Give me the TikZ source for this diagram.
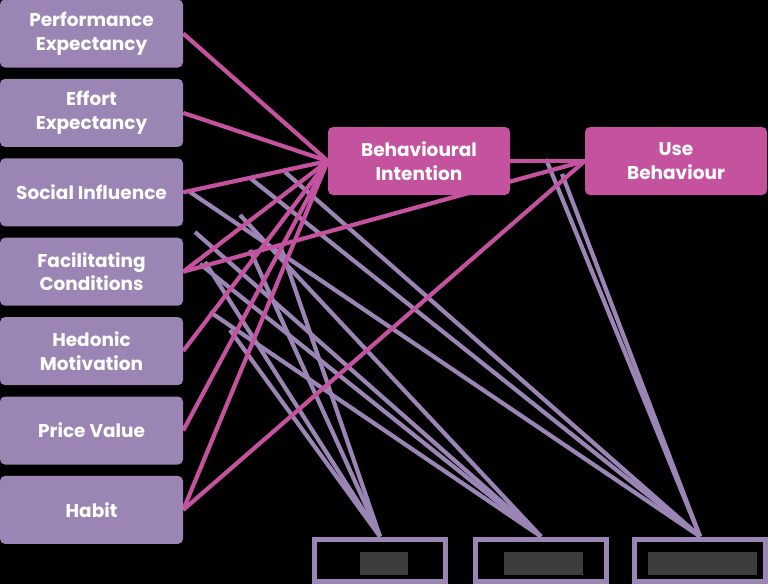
\documentclass[tikz,border=0pt]{standalone}
\usepackage{fontspec}
\setmainfont{Poppins}
\usetikzlibrary{positioning}
\definecolor{lavbox}{RGB}{155,133,180}
\definecolor{magbox}{RGB}{196,82,159}
\definecolor{redact}{RGB}{61,61,61}
\pgfdeclarelayer{backdrop}
\pgfdeclarelayer{links}
\pgfsetlayers{backdrop,links,main}

\begin{document}
\begin{tikzpicture}[
  x=1pt, y=-1pt,
  factor/.style={fill=lavbox, rounded corners=5pt, minimum width=183pt, minimum height=68pt, inner sep=0pt, text=white, align=center, font=\fontsize{18.5}{23.5}\selectfont\bfseries},
  outcome/.style={factor, fill=magbox, minimum width=182pt},
  moderator/.style={draw=lavbox, line width=5pt, minimum width=131pt, minimum height=42pt, inner sep=0pt},
  hidden/.style={fill=redact, inner sep=0pt, minimum height=23pt},
  effect/.style={magbox, line width=4.2pt},
  modline/.style={lavbox, line width=4.2pt},
]
  \useasboundingbox (0,0) rectangle (768,584);
  \begin{pgfonlayer}{backdrop}
    \fill[black] (0,0) rectangle (768,584);
  \end{pgfonlayer}

  % Determinants (left column)
  \node[factor] (pe) at (91.5,33.5) {Performance\\Expectancy};
  \node[factor, below=11pt of pe] (ee) {Effort\\Expectancy};
  \node[factor, below=11pt of ee] (si) {Social Influence};
  \node[factor, below=11pt of si] (fc) {Facilitating\\Conditions};
  \node[factor, below=11pt of fc] (hm) {Hedonic\\Motivation};
  \node[factor, below=11pt of hm] (pv) {Price Value};
  \node[factor, below=11pt of pv] (ht) {Habit};

  % Outcomes
  \node[outcome] (bi) at (419,161) {Behavioural\\Intention};
  \node[outcome] (ub) at (676,161) {Use\\Behaviour};

  % Moderators (bottom row)
  \node[moderator] (age) at (380,560) {};
  \node[moderator] (gen) at (541,560) {};
  \node[moderator] (exp) at (700,560) {};
  \node[hidden, minimum width=48pt] (agetxt) at (384,563.5) {};
  \node[hidden, minimum width=79pt] (gentxt) at (543.5,563.5) {};
  \node[hidden, minimum width=109pt] (exptxt) at (702.5,563.5) {};

  % Hooks of the moderators on the effect lines
  \coordinate (x1) at (190,192);
  \coordinate (x2) at (250,178);
  \coordinate (x3) at (285,172);
  \coordinate (x4) at (546,159);
  \coordinate (x5) at (562,174);
  \coordinate (g1) at (210,312);
  \coordinate (g2) at (200,264);
  \coordinate (g3) at (195,232);
  \coordinate (g4) at (240,215);
  \coordinate (a1) at (205,262);
  \coordinate (a2) at (250,250);
  \coordinate (a3) at (280,245);
  \coordinate (a4) at (230,330);

  \begin{pgfonlayer}{links}
    % Moderator lines
    \foreach \p in {x1,x2,x3,x4,x5}
      \draw[modline] (\p) -- (exp.north);
    \foreach \p in {g1,g2,g3,g4}
      \draw[modline] (\p) -- (gen.north);
    \foreach \p in {a1,a2,a3,a4}
      \draw[modline] (\p) -- (age.north);

    % Effects on intention and use
    \foreach \f in {pe,ee,si,fc,hm,pv,ht}
      \draw[effect] (\f.east) -- (bi.west);
    \draw[effect] (fc.east) -- (ub.west);
    \draw[effect] (ht.east) -- (ub.west);
    \draw[effect] (bi.east) -- (ub.west);
  \end{pgfonlayer}
\end{tikzpicture}
\end{document}
